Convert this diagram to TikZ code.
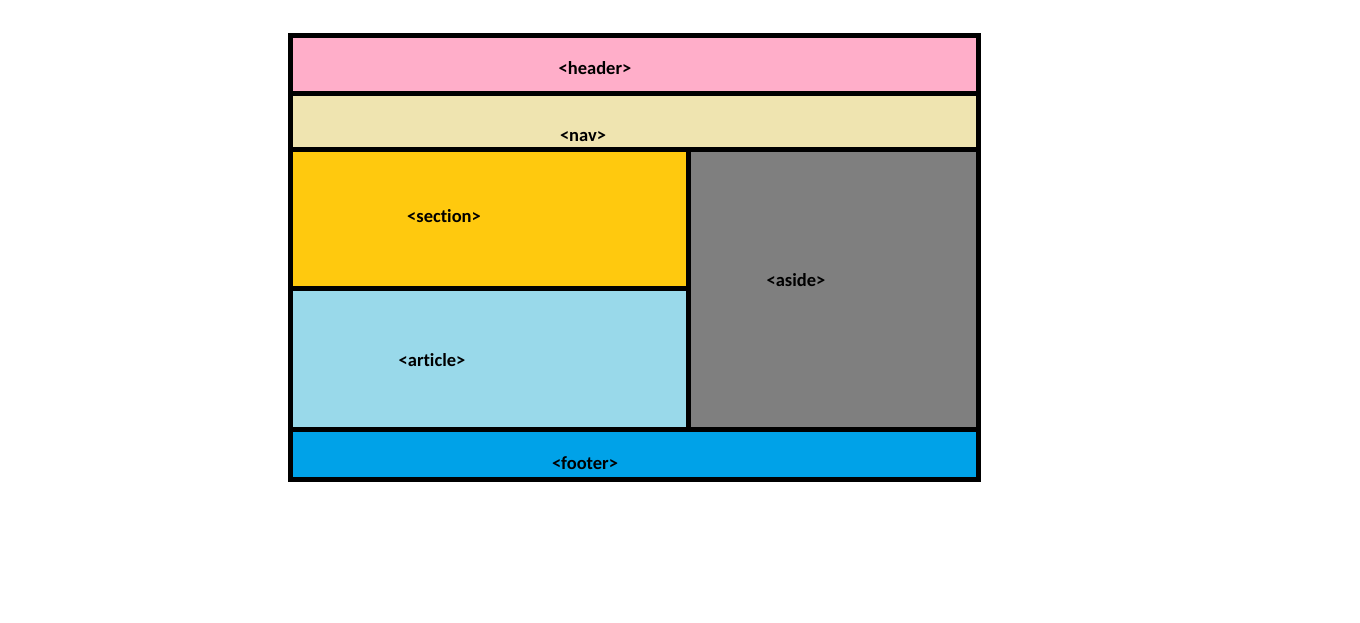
\documentclass[tikz,border=0pt]{standalone}
\usepackage{fontspec}
\setmainfont{Carlito}[Ligatures={NoCommon,NoContextual}]
\definecolor{cheader}{HTML}{FFAEC9}
\definecolor{cnav}{HTML}{EFE4B0}
\definecolor{csection}{HTML}{FFC90E}
\definecolor{carticle}{HTML}{99D9EA}
\definecolor{caside}{HTML}{7F7F7F}
\definecolor{cfooter}{HTML}{00A2E8}
\tikzset{
  region/.style={draw=black, line width=5pt},
  lbl/.style={font=\fontsize{18.5}{20}\selectfont\bfseries, inner sep=0pt, text=black}
}
\begin{document}
\begin{tikzpicture}[x=1pt,y=-1pt]
\useasboundingbox[fill=white] (0,0) rectangle (1360,623);
\fill[cheader] (290.5,35.5) rectangle (978.5,93.5);
\fill[cnav] (290.5,93.5) rectangle (978.5,149.5);
\fill[csection] (290.5,149.5) rectangle (688,288.5);
\fill[carticle] (290.5,288.5) rectangle (688,429);
\fill[caside] (688,149.5) rectangle (978.5,429);
\fill[cfooter] (290.5,429) rectangle (978.5,479.5);
\draw[region] (290.5,35.5) rectangle (978.5,479.5);
\draw[region] (290.5,93.5) -- (978.5,93.5);
\draw[region] (290.5,149.5) -- (978.5,149.5);
\draw[region] (290.5,288.5) -- (688,288.5);
\draw[region] (290.5,429) -- (978.5,429);
\draw[region] (688,149.5) -- (688,429);
\node[lbl] (header) at (595,68) {<header>};
\node[lbl] (nav) at (583,137) {<nav>};
\node[lbl] (section) at (444,216) {<section>};
\node[lbl] (aside) at (796,280) {<aside>};
\node[lbl] (article) at (432,360) {<article>};
\node[lbl] (footer) at (585,463) {<footer>};
\end{tikzpicture}
\end{document}
